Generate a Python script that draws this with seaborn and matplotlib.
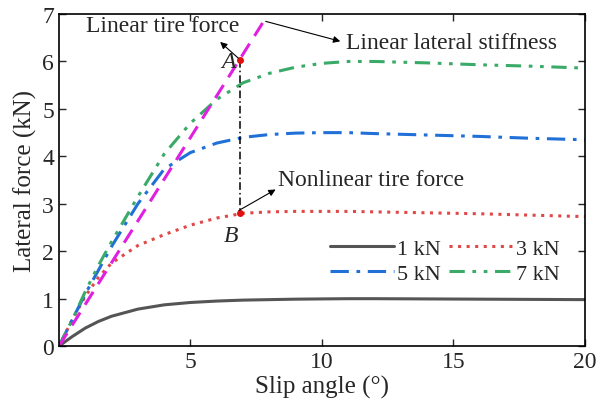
import matplotlib
matplotlib.use('Agg')
import matplotlib.pyplot as plt
import seaborn as sns

# slip angle (deg) and lateral force (kN) for each vertical load
slip = [0, 0.5, 1, 1.5, 2, 3, 4, 5, 6, 7, 8, 9, 10, 11, 12, 14, 16, 18, 20]
fy_1kn = [0, 0.2, 0.38, 0.52, 0.63, 0.78, 0.87, 0.92, 0.95, 0.97, 0.98, 0.99, 0.995, 1.0, 1.0, 0.995, 0.99, 0.985, 0.98]
fy_3kn = [0, 0.55, 1.05, 1.45, 1.75, 2.12, 2.35, 2.55, 2.7, 2.8, 2.83, 2.84, 2.84, 2.84, 2.83, 2.81, 2.79, 2.76, 2.73]
fy_5kn = [0, 0.55, 1.1, 1.6, 2.1, 3.0, 3.73, 4.08, 4.28, 4.4, 4.46, 4.49, 4.5, 4.5, 4.48, 4.45, 4.42, 4.38, 4.35]
fy_7kn = [0, 0.55, 1.15, 1.7, 2.2, 3.15, 4.05, 4.7, 5.2, 5.55, 5.75, 5.88, 5.96, 6.0, 6.0, 5.97, 5.93, 5.9, 5.86]
labels = ['1 kN', '3 kN', '5 kN', '7 kN']

# linear tire model (cornering stiffness line)
lin_slip = [0, 7.8]
lin_fy = [0, 6.86]

point_A = (6.9, 6.03)
point_B = (6.9, 2.8)

sns.set_style('ticks')
plt.rcParams['font.family'] = ['Liberation Serif', 'DejaVu Serif']

fig = plt.figure(figsize=(6.08, 4.06), dpi=100)
ax = fig.add_axes([0.097, 0.145, 0.865, 0.818])

styles = [
    dict(color='#555555', linestyle='-'),
    dict(color='#e04848', linestyle=(0, (1, 1.8))),
    dict(color='#2070d8', linestyle=(0, (6, 2.5, 1.2, 2.5))),
    dict(color='#3aaa68', linestyle=(0, (5, 2.5, 1.2, 2.5, 1.2, 2.5))),
]
for fy, lab, st in zip([fy_1kn, fy_3kn, fy_5kn, fy_7kn], labels, styles):
    sns.lineplot(x=slip, y=fy, ax=ax, label=lab, linewidth=2.2, **st)

sns.lineplot(x=lin_slip, y=lin_fy, ax=ax, color='#e020e0', linewidth=2.2,
             linestyle=(0, (5, 3)), legend=False)

ax.plot([point_A[0], point_B[0]], [point_A[1], point_B[1]], color='black',
        linewidth=1.1, linestyle=(0, (5, 2, 1, 2)))
ax.plot([point_A[0], point_B[0]], [point_A[1], point_B[1]], 'o', color='#e01010',
        markersize=4)

arrow = dict(arrowstyle='-|>', color='black', lw=0.8, mutation_scale=10)
ax.annotate('', xy=(6.05, 6.45), xytext=point_A, arrowprops=arrow)
ax.text(3.95, 6.75, 'Linear tire force', fontsize=17, ha='center', va='center')
ax.annotate('', xy=(10.8, 6.41), xytext=(7.76, 6.86), arrowprops=arrow)
ax.text(10.9, 6.39, 'Linear lateral stiffness', fontsize=17, ha='left', va='center')
ax.annotate('', xy=(8.33, 3.33), xytext=(6.75, 2.83), arrowprops=arrow)
ax.text(8.33, 3.52, 'Nonlinear tire force', fontsize=17, ha='left', va='center')
ax.text(6.45, 6.0, 'A', fontsize=17, style='italic', ha='center', va='center')
ax.text(6.55, 2.33, 'B', fontsize=17, style='italic', ha='center', va='center')

ax.set_xlim(0, 20)
ax.set_ylim(0, 7)
ax.set_xticks([5, 10, 15, 20])
ax.set_yticks(range(0, 8))
ax.set_xlabel('Slip angle (°)', fontsize=18, labelpad=2)
ax.set_ylabel('Lateral force (kN)', fontsize=18, labelpad=4)
ax.tick_params(direction='in', top=True, right=True, labelsize=17, length=5, width=1)
for sp in ax.spines.values():
    sp.set_linewidth(1.2)
    sp.set_color('black')

lines = ax.get_lines()
handles = [lines[0], lines[2], lines[1], lines[3]]
ax.legend(handles=handles, labels=[labels[0], labels[2], labels[1], labels[3]],
          ncol=2, frameon=False, fontsize=16,
          loc='center right', bbox_to_anchor=(0.99, 0.255), handlelength=2.9,
          handletextpad=0.1, columnspacing=0.4, labelspacing=0.2)

plt.savefig('out.png', dpi=100)
plt.close()
